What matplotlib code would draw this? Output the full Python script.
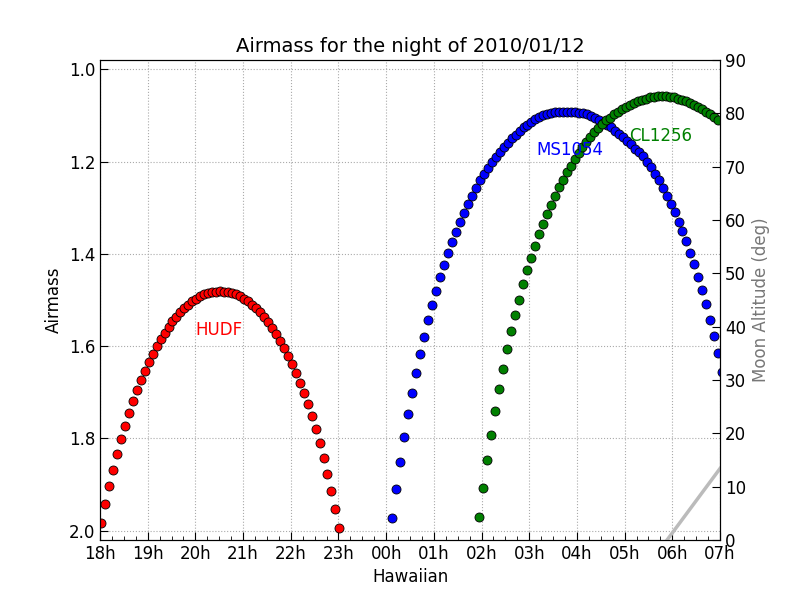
import numpy as np
import matplotlib.pyplot as plt

# hours after 18h, one sample every 5 minutes
step = 1.0 / 12

hudf_start = 0.02
hudf = [1.983, 1.942, 1.902, 1.868, 1.834, 1.802, 1.773, 1.745, 1.719, 1.695,
        1.673, 1.654, 1.635, 1.617, 1.599, 1.585, 1.571, 1.558, 1.546, 1.536,
        1.527, 1.518, 1.510, 1.503, 1.497, 1.492, 1.488, 1.485, 1.483, 1.482,
        1.481, 1.482, 1.483, 1.485, 1.488, 1.491, 1.497, 1.503, 1.510, 1.518,
        1.527, 1.537, 1.548, 1.560, 1.573, 1.588, 1.604, 1.621, 1.638, 1.659,
        1.680, 1.701, 1.725, 1.751, 1.779, 1.810, 1.842, 1.876, 1.913, 1.953,
        1.994]

ms1054_start = 6.13
ms1054 = [1.972, 1.910, 1.850, 1.797, 1.747, 1.701, 1.658, 1.617, 1.580, 1.543,
          1.510, 1.480, 1.450, 1.424, 1.398, 1.374, 1.352, 1.331, 1.311, 1.291,
          1.274, 1.258, 1.241, 1.228, 1.215, 1.202, 1.190, 1.179, 1.169, 1.160,
          1.150, 1.142, 1.134, 1.126, 1.120, 1.114, 1.108, 1.104, 1.100, 1.098,
          1.095, 1.093, 1.093, 1.092, 1.092, 1.092, 1.093, 1.094, 1.095, 1.098,
          1.102, 1.106, 1.111, 1.116, 1.121, 1.126, 1.133, 1.140, 1.147, 1.155,
          1.163, 1.172, 1.180, 1.189, 1.200, 1.211, 1.227, 1.241, 1.257, 1.274,
          1.291, 1.310, 1.330, 1.350, 1.373, 1.398, 1.422, 1.450, 1.478, 1.508,
          1.543, 1.577, 1.615, 1.657]

cl1256_start = 7.95
cl1256 = [1.970, 1.907, 1.846, 1.792, 1.740, 1.693, 1.649, 1.607, 1.568, 1.532,
          1.499, 1.466, 1.436, 1.408, 1.382, 1.358, 1.335, 1.313, 1.294, 1.274,
          1.256, 1.239, 1.223, 1.209, 1.195, 1.182, 1.169, 1.158, 1.147, 1.137,
          1.128, 1.119, 1.111, 1.105, 1.098, 1.092, 1.086, 1.081, 1.077, 1.073,
          1.069, 1.067, 1.064, 1.061, 1.060, 1.059, 1.059, 1.059, 1.060, 1.061,
          1.064, 1.067, 1.069, 1.073, 1.077, 1.081, 1.087, 1.092, 1.098, 1.104,
          1.111]

moon_t = [11.89, 13.0]
moon_alt = [0.0, 13.4]

tick_labels = ['18h', '19h', '20h', '21h', '22h', '23h', '00h',
               '01h', '02h', '03h', '04h', '05h', '06h', '07h']

fig = plt.figure(figsize=(8, 6), dpi=100)
ax = fig.add_axes([0.125, 0.1, 0.775, 0.8])

for start, vals, col, name, lx, ly in [
        (hudf_start, hudf, 'red', 'HUDF', 1.99, 1.565),
        (ms1054_start, ms1054, 'blue', 'MS1054', 9.14, 1.175),
        (cl1256_start, cl1256, 'green', 'CL1256', 11.09, 1.145)]:
    t = start + step * np.arange(len(vals))
    ax.plot(t, vals, 'o', color=col, mec='black', mew=0.6, ms=6.5, clip_on=True)
    ax.text(lx, ly, name, color=col, fontsize=12, va='center')

ax.set_xlim(0, 13)
ax.set_ylim(2.02, 0.98)
ax.set_xticks(range(14))
ax.set_xticklabels(tick_labels)
ax.set_xticks(np.arange(0, 13.01, 0.25), minor=True)
ax.set_yticks([1.0, 1.2, 1.4, 1.6, 1.8, 2.0])
ax.tick_params(direction='in', labelsize=12, length=6)
ax.tick_params(which='minor', direction='in', length=3)
ax.grid(True, color='#aaaaaa', linestyle=':', linewidth=0.8)
ax.set_xlabel('Hawaiian', fontsize=12)
ax.set_ylabel('Airmass', fontsize=12)
ax.set_title('Airmass for the night of 2010/01/12', fontsize=14)

ax2 = ax.twinx()
ax2.plot(moon_t, moon_alt, color='#bbbbbb', linewidth=2.5)
ax2.set_ylim(0, 90)
ax2.set_xlim(0, 13)
ax2.set_yticks(range(0, 91, 10))
ax2.tick_params(direction='in', labelsize=12, length=6)
ax2.set_ylabel('Moon Altitude (deg)', fontsize=12, color='#777777')

fig.savefig('out.png')
